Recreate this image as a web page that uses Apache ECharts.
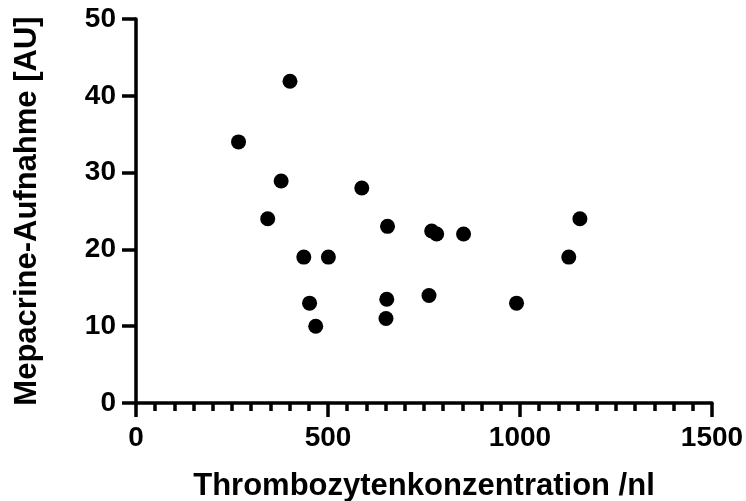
<!DOCTYPE html>
<html>
<head>
<meta charset="utf-8">
<script src="https://cdn.jsdelivr.net/npm/echarts@6/dist/echarts.min.js"></script>
<style>html,body{margin:0;padding:0;background:#fff}#c{width:746px;height:501px}</style>
</head>
<body>
<div id="c"></div>
<script>
var thrombo = [267, 401, 378, 588, 343, 655, 770, 783, 853, 437, 501, 452, 468, 653, 651, 763, 1156, 1127, 991];
var mepacrine = [34, 41.9, 28.9, 28, 24, 23, 22.4, 22, 22, 19, 19, 13, 10, 13.5, 11, 14, 24, 19, 13];
var xTitle = 'Thrombozytenkonzentration /nl';
var yTitle = 'Mepacrine-Aufnahme [AU]';

var pts = thrombo.map(function (v, i) { return [v, mepacrine[i]]; });
var font = '"Liberation Sans", Arial, Helvetica, sans-serif';
var plain = function (v) { return String(v); };
var chart = echarts.init(document.getElementById('c'), null, { renderer: 'canvas' });
chart.setOption({
  animation: false,
  grid: { left: 136, right: 34, top: 19, bottom: 98, containLabel: false, outerBoundsMode: 'none' },
  xAxis: {
    type: 'value', min: 0, max: 1500, interval: 500,
    name: xTitle, nameLocation: 'middle', nameGap: 68,
    nameTextStyle: { fontFamily: font, fontWeight: 'bold', fontSize: 31, color: '#000' },
    axisLine: { show: true, onZero: false, lineStyle: { color: '#000', width: 3.5 } },
    axisTick: { show: true, length: 14, lineStyle: { color: '#000', width: 3.5 } },
    minorTick: { show: true, splitNumber: 10, length: 8, lineStyle: { color: '#000', width: 3.5 } },
    axisLabel: { margin: 21, fontFamily: font, fontWeight: 'bold', fontSize: 28, color: '#000', formatter: plain },
    splitLine: { show: false }
  },
  yAxis: {
    type: 'value', min: 0, max: 50, interval: 10,
    name: yTitle, nameLocation: 'middle', nameGap: 93, nameRotate: 90,
    nameTextStyle: { fontFamily: font, fontWeight: 'bold', fontSize: 31, color: '#000' },
    axisLine: { show: true, onZero: false, lineStyle: { color: '#000', width: 3.5 } },
    axisTick: { show: true, length: 14, lineStyle: { color: '#000', width: 3.5 } },
    axisLabel: { margin: 20, fontFamily: font, fontWeight: 'bold', fontSize: 28, color: '#000', formatter: plain },
    splitLine: { show: false }
  },
  series: [{
    type: 'scatter', data: pts, symbol: 'circle', symbolSize: 15,
    itemStyle: { color: '#000', opacity: 1 }
  }]
});
</script>
</body>
</html>
